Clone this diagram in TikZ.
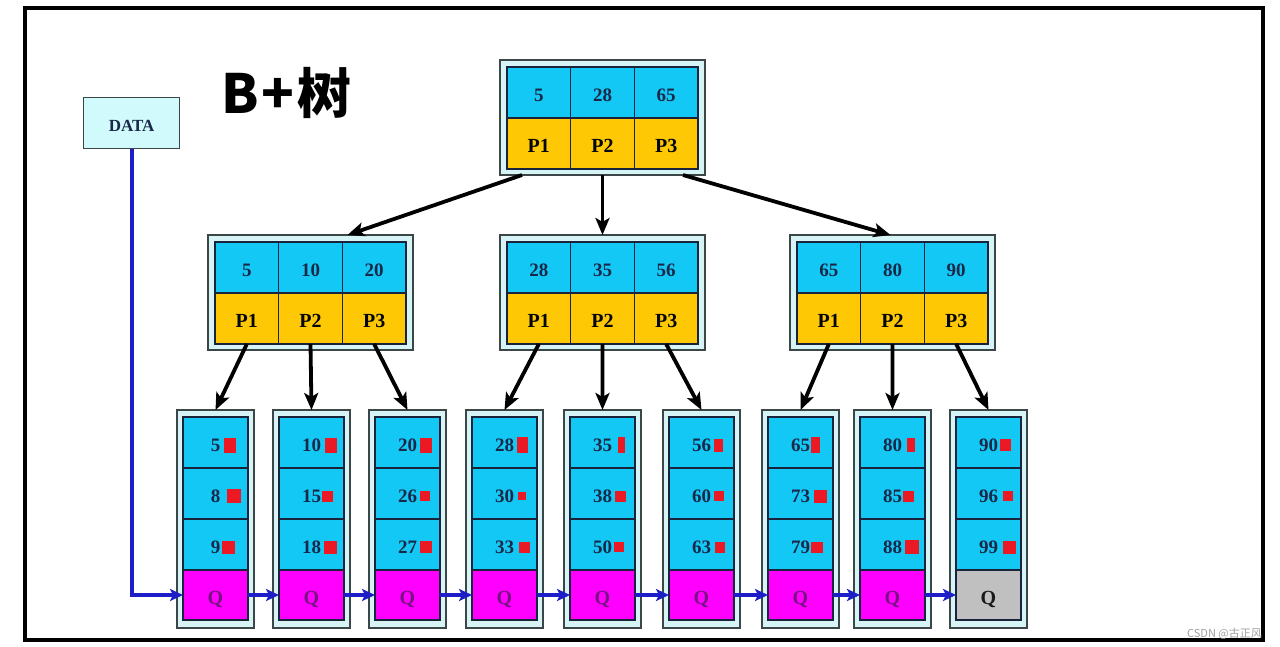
\documentclass[tikz,border=0pt]{standalone}
\usepackage{fontspec}
\setmainfont{Liberation Serif}
\newfontfamily\cjk{Noto Sans CJK SC}
\usetikzlibrary{arrows.meta}
\definecolor{keycyan}{RGB}{20,200,245}
\definecolor{ptrorange}{RGB}{255,200,5}
\definecolor{boxcyan}{RGB}{214,243,246}
\definecolor{datafill}{RGB}{208,250,252}
\definecolor{framegray}{RGB}{60,70,70}
\definecolor{celledge}{RGB}{25,35,60}
\definecolor{navy}{RGB}{24,40,72}
\definecolor{qmag}{RGB}{255,0,255}
\definecolor{qpurple}{RGB}{120,20,130}
\definecolor{qgray}{RGB}{192,192,192}
\definecolor{sqred}{RGB}{235,25,35}
\definecolor{linkblue}{RGB}{30,30,200}
\definecolor{wmgray}{RGB}{160,160,160}
\newcommand\rsq[2]{{\color{sqred}\rule[\dimexpr 6.5pt-#2pt/2\relax]{#1pt}{#2pt}}}
\newcommand\lk[4]{#1\rlap{\hspace{#4pt}\rsq{#2}{#3}}}
\newcommand\inode[6]{%
  \node[outerbox,minimum width=205pt,minimum height=115pt] (#1) at (#2,#3) {};
  \node[keycell] (#1-k1) at ([shift={(7,7)}]#1.north west) {#4};
  \node[keycell] (#1-k2) at (#1-k1.north east) {#5};
  \node[keycell] (#1-k3) at (#1-k2.north east) {#6};
  \node[ptrcell] (#1-p1) at (#1-k1.south west) {P1};
  \node[ptrcell] (#1-p2) at (#1-k2.south west) {P2};
  \node[ptrcell] (#1-p3) at (#1-k3.south west) {P3};
}
\newcommand\leaf[6]{%
  \node[outerbox,minimum width=77pt,minimum height=218pt] (#1) at (#2,410) {};
  \node[leafcell] (#1-a) at ([shift={(6,7)}]#1.north west) {#3};
  \node[leafcell] (#1-b) at (#1-a.south west) {#4};
  \node[leafcell] (#1-c) at (#1-b.south west) {#5};
  \node[#6] (#1-q) at (#1-c.south west) {Q};
}
\begin{document}
\begin{tikzpicture}[x=1pt,y=-1pt,
  outerbox/.style={draw=framegray,fill=boxcyan,line width=1.4pt,inner sep=0pt,outer sep=0pt,anchor=north west},
  cellbase/.style={draw=celledge,line width=1.2pt,inner sep=0pt,outer sep=0pt,anchor=north west,
    text height=18pt,text depth=0pt},
  keycell/.style={cellbase,fill=keycyan,minimum width=63.67pt,minimum height=51pt,
    text=navy,font=\bfseries\fontsize{19}{19}\selectfont},
  ptrcell/.style={keycell,fill=ptrorange,text=black!85!navy,font=\bfseries\fontsize{20}{20}\selectfont},
  leafcell/.style={cellbase,fill=keycyan,minimum width=65pt,minimum height=51pt,
    text=navy,font=\bfseries\fontsize{19}{19}\selectfont},
  qcell/.style={cellbase,fill=qmag,minimum width=65pt,minimum height=50pt,
    text=qpurple,font=\bfseries\fontsize{20}{20}\selectfont},
  qend/.style={qcell,fill=qgray,text=black!90},
  tree/.style={line width=3.8pt,-{Stealth[length=17pt,width=14pt,inset=4pt]}},
  link/.style={draw=linkblue,line width=3.6pt,-{Stealth[length=13pt,width=12pt,inset=3pt]}}]
\fill[white] (0,0) rectangle (1280,646);
\useasboundingbox (0,0) rectangle (1280,646);

% title
\node[anchor=base west,inner sep=0pt,font=\cjk\bfseries\fontsize{54}{54}\selectfont] (title) at (221,113) {B\kern3pt+\kern3pt树};

% DATA
\node[draw=framegray,fill=datafill,line width=1.4pt,minimum width=96pt,minimum height=51pt,inner sep=0pt,
  anchor=north west,text height=16pt,text depth=0pt,text=navy,font=\bfseries\fontsize{17}{17}\selectfont] (data) at (83,97) {DATA};

% internal nodes
\inode{r}{500}{60}{5}{28}{65}
\inode{mL}{208}{235}{5}{10}{20}
\inode{mC}{500}{235}{28}{35}{56}
\inode{mR}{790}{235}{65}{80}{90}

% leaves
\leaf{l1}{177}{\lk{5}{12}{15}{4}}{\lk{8}{14}{14}{7}}{\lk{9}{13}{13}{2}}{qcell}
\leaf{l2}{273}{\lk{10}{12}{15}{4}}{\lk{15}{11}{11}{1}}{\lk{18}{13}{13}{3}}{qcell}
\leaf{l3}{369}{\lk{20}{12}{15}{3}}{\lk{26}{10}{10}{3}}{\lk{27}{12}{12}{3}}{qcell}
\leaf{l4}{466}{\lk{28}{11}{16}{3}}{\lk{30}{8}{8}{4}}{\lk{33}{11}{11}{5}}{qcell}
\leaf{l5}{564}{\lk{35}{7}{16}{6}}{\lk{38}{11}{11}{3}}{\lk{50}{10}{10}{2}}{qcell}
\leaf{l6}{663}{\lk{56}{9}{13}{3}}{\lk{60}{10}{10}{3}}{\lk{63}{10}{11}{4}}{qcell}
\leaf{l7}{762}{\lk{65}{9}{16}{1}}{\lk{73}{13}{13}{4}}{\lk{79}{12}{11}{1}}{qcell}
\leaf{l8}{854}{\lk{80}{8}{14}{5}}{\lk{85}{11}{11}{0.5}}{\lk{88}{14}{14}{3}}{qcell}
\leaf{l9}{950}{\lk{90}{11}{12}{2}}{\lk{96}{10}{10}{5}}{\lk{99}{13}{13}{5}}{qend}

% tree arrows
\draw[tree] ([xshift=22pt]r.south west) -- ([xshift=37pt]mL.north);
\draw[tree] (r.south) -- (mC.north);
\draw[tree] ([xshift=-22pt]r.south east) -- ([xshift=-2pt]mR.north);
\foreach \m/\a/\b/\c in {mL/l1/l2/l3, mC/l4/l5/l6, mR/l7/l8/l9}{
  \draw[tree] (\m-p1.south) -- (\a.north);
  \draw[tree] (\m-p2.south) -- (\b.north);
  \draw[tree] (\m-p3.south) -- (\c.north);
}

% leaf links
\draw[link] (data.south) |- (l1-q.west);
\foreach \a/\b in {l1/l2,l2/l3,l3/l4,l4/l5,l5/l6,l6/l7,l7/l8,l8/l9}{
  \draw[link] (\a-q.east) -- (\b-q.west);
}

% frame
\draw[line width=4pt] (25,8) rectangle (1263,640);

% watermark
\node[anchor=east,inner sep=0pt,text=wmgray,font=\cjk\fontsize{11}{11}\selectfont] (wm) at (1262,634) {CSDN @古正风};
\end{tikzpicture}
\end{document}
